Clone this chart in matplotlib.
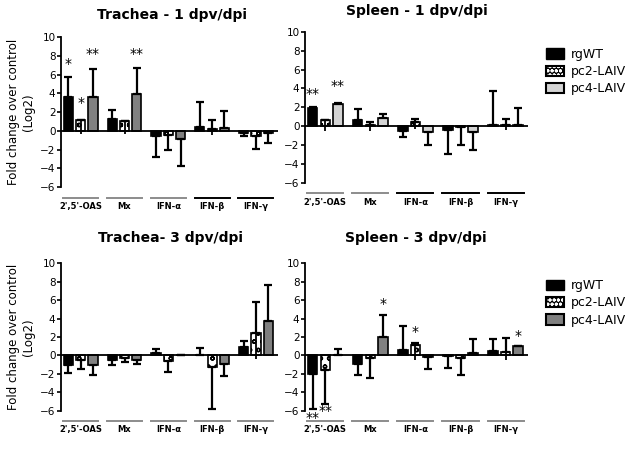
import matplotlib
matplotlib.use("Agg")
import matplotlib.pyplot as plt
import matplotlib.transforms as mtransforms
from matplotlib.patches import Patch
from matplotlib.legend_handler import HandlerTuple
import numpy as np

# Категории и серии
genes = ["2',5'-OAS", "Mx", "IFN-α", "IFN-β", "IFN-γ"]
series = ["rgWT", "pc2-LAIV", "pc4-LAIV"]

# Trachea - 1 dpv/dpi: средние значения и концы планок погрешностей
tr1_vals = [[3.6, 1.3, -0.6, 0.4, -0.2],
            [1.2, 1.0, -0.5, 0.15, -0.6],
            [3.6, 3.9, -0.9, 0.3, -0.2]]
tr1_tips = [[5.7, 2.2, -2.8, 3.1, -0.6],
            [1.2, 1.0, -2.0, 1.2, -1.9],
            [6.6, 6.7, -3.8, 2.1, -1.3]]
tr1_stem = [-0.3, -0.3, np.nan, -0.4, np.nan]
tr1_stars = [(0, 0, "*", 6.4), (0, 1, "*", 2.2), (0, 2, "**", 7.4), (1, 2, "**", 7.4)]

# Spleen - 1 dpv/dpi
sp1_vals = [[1.9, 0.7, -0.5, -0.4, 0.1],
            [0.7, 0.15, 0.4, -0.1, 0.15],
            [2.3, 0.9, -0.6, -0.6, 0.15]]
sp1_tips = [[2.0, 1.8, -1.1, -3.0, 3.7],
            [0.7, 0.45, 0.8, -2.0, 0.8],
            [2.5, 1.3, -2.0, -2.5, 1.9]]
sp1_stem = [-0.5, -0.5, -0.3, np.nan, -0.4]
sp1_stars = [(0, 0, "**", 2.7), (0, 2, "**", 3.5)]

# Trachea - 3 dpv/dpi
tr3_vals = [[-1.0, -0.5, 0.3, 0.1, 0.9],
            [-0.5, -0.3, -0.6, -1.3, 2.4],
            [-1.0, -0.5, 0.1, -0.9, 3.7]]
tr3_tips = [[-1.9, -1.0, 0.7, 0.8, 1.6],
            [-1.5, -0.7, -1.8, -5.8, 5.8],
            [-2.1, -0.9, 0.1, -2.2, 7.7]]
tr3_stem = [np.nan, np.nan, np.nan, np.nan, -0.4]
tr3_stars = []

# Spleen - 3 dpv/dpi
sp3_vals = [[-2.0, -0.9, 0.6, -0.05, 0.5],
            [-1.6, -0.3, 1.1, -0.3, 0.4],
            [0.1, 2.0, -0.2, 0.3, 1.0]]
sp3_tips = [[-5.8, -2.1, 3.2, -1.4, 1.8],
            [-5.3, -2.4, 1.4, -2.1, 1.9],
            [0.7, 4.4, -1.5, 1.8, 1.0]]
sp3_stem = [np.nan, np.nan, -0.5, np.nan, -0.5]
sp3_stars = [(0, 0, "**", -7.6), (0, 1, "**", -6.8), (1, 2, "*", 4.8),
             (2, 1, "*", 1.8), (4, 2, "*", 1.4)]

GRAY = "#808080"
LIGHT = "#d4d4d4"
LINE_GRAY = "#8c8c8c"

panels = [
    # заголовок, значения, концы, стебли, звёздочки, цвет pc4, цвета подчёркиваний, позиция осей, позиция заголовка
    ("Trachea - 1 dpv/dpi", tr1_vals, tr1_tips, tr1_stem, tr1_stars, GRAY,
     [LINE_GRAY] * 3 + ["black"] * 2, [0.0976, 0.5835, 0.347, 0.334], (172, 15)),
    ("Spleen - 1 dpv/dpi", sp1_vals, sp1_tips, sp1_stem, sp1_stars, LIGHT,
     [LINE_GRAY] * 2 + ["black"] * 3, [0.488, 0.593, 0.357, 0.336], (417, 11)),
    ("Trachea- 3 dpv/dpi", tr3_vals, tr3_tips, tr3_stem, tr3_stars, GRAY,
     [LINE_GRAY] * 5, [0.0976, 0.0853, 0.347, 0.328], (171, 238)),
    ("Spleen - 3 dpv/dpi", sp3_vals, sp3_tips, sp3_stem, sp3_stars, GRAY,
     [LINE_GRAY] * 5, [0.488, 0.0853, 0.357, 0.328], (416, 238)),
]

W, H = 625, 449
fig = plt.figure(figsize=(W / 100, H / 100), dpi=100)
plt.rcParams["hatch.linewidth"] = 1.0

x = np.arange(len(genes))
offsets = [-0.28, 0.0, 0.28]
bw = 0.21

for k, (title, vals, tips, stem, stars, pc4_col, ucols, pos, tpos) in enumerate(panels):
    ax = fig.add_axes(pos)
    faces = ["black", "white", pc4_col]
    hatches = [None, "oo", None]
    for s in range(3):
        v = np.array(vals[s])
        t = np.array(tips[s])
        xs = x + offsets[s]
        ax.bar(xs, v, width=bw, color=faces[s], edgecolor="black",
               linewidth=1.2, hatch=hatches[s], zorder=2)
        lower = np.clip(v - t, 0, None)
        upper = np.clip(t - v, 0, None)
        ax.errorbar(xs, v, yerr=[lower, upper], fmt="none", ecolor="black",
                    elinewidth=1.6, capsize=2.8, capthick=1.6, zorder=3)
    # стебли pc2, проходящие ниже нуля
    for i, lo in enumerate(stem):
        if not np.isnan(lo):
            ax.vlines(x[i], lo, vals[1][i], color="black", lw=1.3, zorder=3)
    for g, s, txt, yy in stars:
        ax.text(x[g] + offsets[s], yy, txt, ha="center", va="bottom",
                fontsize=10, clip_on=False)

    ax.axhline(0, color="black", lw=1.3, zorder=4)
    ax.set_xlim(-0.45, 4.5)
    ax.set_ylim(-6, 10)
    ax.set_yticks(np.arange(-6, 11, 2))
    ax.tick_params(axis="y", labelsize=7.5, length=3, width=1.2, pad=1)
    ax.set_xticks([])
    for sp in ["top", "right", "bottom"]:
        ax.spines[sp].set_visible(False)
    ax.spines["left"].set_linewidth(1.3)
    ax.spines["left"].set_bounds(-6, 10)
    ax.patch.set_alpha(0)

    # подчёркивания и подписи генов
    trans = mtransforms.blended_transform_factory(ax.transData, ax.transAxes)
    for i, g in enumerate(genes):
        ax.plot([x[i] - 0.4, x[i] + 0.4], [-0.07, -0.07], color=ucols[i],
                lw=1.4, transform=trans, clip_on=False)
        ax.text(x[i], -0.1, g, ha="center", va="top", fontsize=6,
                fontweight="bold", transform=trans, clip_on=False)

    if k % 2 == 0:
        ax.set_ylabel("Fold change over control\n(Log2)", fontsize=8.5, labelpad=4)
    else:
        # белые кружки на чёрном фоне + чёрная рамка
        pc2_fill = Patch(facecolor="black", edgecolor="white", hatch="oooo", lw=0)
        pc2_edge = Patch(facecolor="none", edgecolor="black", lw=1.5)
        handles = [Patch(facecolor="black", edgecolor="black"),
                   (pc2_fill, pc2_edge),
                   Patch(facecolor=pc4_col, edgecolor="black", lw=1.5)]
        ax.legend(handles=handles, labels=series, loc="upper left",
                  bbox_to_anchor=(1.03, 0.97), frameon=False,
                  fontsize=9, handlelength=1.4, handleheight=0.9,
                  labelspacing=0.35, handletextpad=0.6,
                  handler_map={tuple: HandlerTuple(ndivide=1, pad=0)})

    fig.text(tpos[0] / W, 1 - tpos[1] / H, title, ha="center", va="center",
             fontsize=10, fontweight="bold")

fig.savefig("out.png", dpi=100)
